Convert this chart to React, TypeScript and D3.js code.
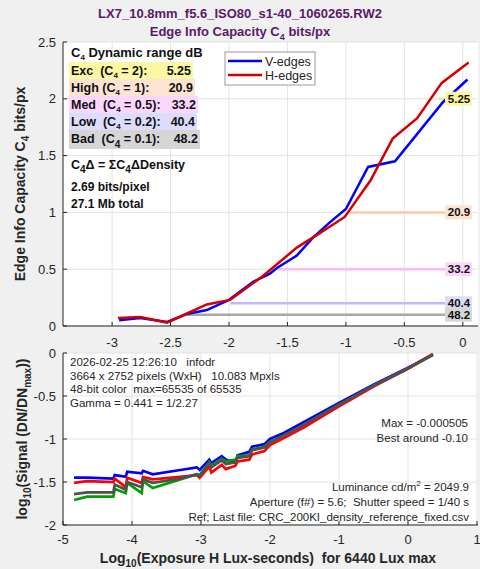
import React from "react";
import * as d3 from "d3";

// ---------- DATA ----------
const titleLine1 = "LX7_10.8mm_f5.6_ISO80_s1-40_1060265.RW2";

const vEdgeX = [-2.94, -2.76, -2.53, -2.36, -2.19, -2.0, -1.79, -1.65, -1.59, -1.42, -1.28, -1.14, -1.0, -0.81, -0.58, -0.17, 0.04];
const vEdgeY = [0.05, 0.07, 0.035, 0.105, 0.14, 0.23, 0.39, 0.46, 0.51, 0.62, 0.78, 0.91, 1.03, 1.40, 1.45, 1.97, 2.17];
const hEdgeX = [-2.95, -2.76, -2.53, -2.36, -2.19, -1.99, -1.71, -1.42, -1.25, -1.01, -0.79, -0.60, -0.39, -0.18, 0.05];
const hEdgeY = [0.07, 0.08, 0.03, 0.11, 0.19, 0.23, 0.44, 0.69, 0.80, 0.96, 1.28, 1.65, 1.83, 2.14, 2.32];

const drNames = ["Exc", "High", "Med", "Low", "Bad"];
const drLevels = ["2", "1", "0.5", "0.2", "0.1"];
const drLevelVals = [2, 1, 0.5, 0.2, 0.1];
const drValues = ["5.25", "20.9", "33.2", "40.4", "48.2"];
const drStartX = [-0.21, -0.99, -1.58, -1.99, -2.36];

const topXTicks = [-3, -2.5, -2, -1.5, -1, -0.5, 0];
const topYTicks = [0, 0.5, 1, 1.5, 2, 2.5];

const sigX = [-4.84, -4.65, -4.27, -4.25, -4.09, -4.07, -3.86, -3.84, -3.70, -3.30, -3.06, -3.02, -2.88, -2.85, -2.70, -2.64, -2.50, -2.47, -2.30, -2.26, -2.08, -2.00, -1.80, -1.50, -1.00, -0.50, 0.00, 0.36];
const sigBlue = [-1.45, -1.45, -1.46, -1.42, -1.44, -1.38, -1.40, -1.37, -1.41, -1.36, -1.33, -1.36, -1.24, -1.28, -1.20, -1.24, -1.28, -1.19, -1.15, -1.09, -1.06, -1.00, -0.93, -0.80, -0.58, -0.37, -0.17, -0.02];
const sigRed = [-1.51, -1.49, -1.50, -1.46, -1.56, -1.45, -1.51, -1.44, -1.47, -1.44, -1.42, -1.45, -1.32, -1.39, -1.30, -1.35, -1.31, -1.26, -1.24, -1.18, -1.14, -1.07, -0.99, -0.86, -0.62, -0.39, -0.18, -0.01];
const sigGray = [-1.64, -1.62, -1.62, -1.53, -1.59, -1.50, -1.56, -1.47, -1.51, -1.46, -1.41, -1.43, -1.28, -1.33, -1.25, -1.29, -1.27, -1.22, -1.20, -1.13, -1.10, -1.04, -0.96, -0.83, -0.60, -0.38, -0.18, -0.02];
const sigGreen = [-1.71, -1.67, -1.67, -1.58, -1.63, -1.51, -1.63, -1.49, -1.57, -1.47, -1.41, -1.42, -1.27, -1.31, -1.23, -1.26, -1.24, -1.20, -1.19, -1.12, -1.09, -1.03, -0.96, -0.83, -0.60, -0.38, -0.18, -0.02];

const botXTicks = [-5, -4, -3, -2, -1, 0, 1];
const botYTicks = [0, -0.5, -1, -1.5, -2];

const infoLeft = [
  "2026-02-25 12:26:10   infodr",
  "3664 x 2752 pixels (WxH)   10.083 Mpxls",
  "48-bit color  max=65535 of 65535",
  "Gamma = 0.441 = 1/2.27",
];
const infoRight1 = ["Max = -0.000505", "Best around -0.10"];
const apertureText = "Aperture (f#) = 5.6;  Shutter speed = 1/40 s";
const refText = "Ref; Last file: CRC_200KI_density_reference_fixed.csv";
const luminance = "2049.9";

// ---------- STYLE ----------
const FONT = "'Liberation Sans', Arial, sans-serif";
const TXT = "#262626";
const GRID = "#e3e3e3";
const PURPLE = "#5a1a6a";
const rowBg = ["#fcf7a2", "#fde3d2", "#fcd6fc", "#dcdcfb", "#d6d6d6"];
const lineCol = ["#f5ee70", "#fdc9a6", "#fcb8fc", "#bcbcfc", "#a8a8a8"];
const rowEnd = [193, 195, 198, 197, 200];

// subscript helper: returns subscript tspan followed by the rest shifted back
function Sub(sub: string, rest: string, dy = 4, size = 9) {
  return [
    <tspan key="s" dy={dy} fontSize={size}>{sub}</tspan>,
    <tspan key="r" dy={-dy}>{rest}</tspan>,
  ];
}

export default function App() {
  const xT = d3.scaleLinear().domain([-3.42, 0.13]).range([63, 478]);
  const yT = d3.scaleLinear().domain([0, 2.5]).range([326, 42]);
  const xB = d3.scaleLinear().domain([-5, 1]).range([63, 477]);
  const yB = d3.scaleLinear().domain([-2, 0]).range([525, 353]);

  const lineTop = d3.line<[number, number]>().x((d) => xT(d[0])).y((d) => yT(d[1]));
  const lineBot = d3.line<[number, number]>().x((d) => xB(d[0])).y((d) => yB(d[1]));

  const vPts = vEdgeX.map((x, i) => [x, vEdgeY[i]] as [number, number]);
  const hPts = hEdgeX.map((x, i) => [x, hEdgeY[i]] as [number, number]);

  const sigSeries = [
    { vals: sigBlue, color: "#0000ff" },
    { vals: sigGreen, color: "#00a000" },
    { vals: sigRed, color: "#ff0000" },
    { vals: sigGray, color: "#505050" },
  ];

  return (
    <svg width={480} height={569} style={{ position: "absolute", left: 0, top: 0, fontFamily: FONT }}>
      <rect width={480} height={569} fill="#f0f0f0" />

      {/* Titles */}
      <text x={240} y={18} textAnchor="middle" fontSize={13} fontWeight="bold" fill={PURPLE}>{titleLine1}</text>
      <text x={240} y={36} textAnchor="middle" fontSize={13} fontWeight="bold" fill={PURPLE}>
        <tspan>Edge Info Capacity C</tspan>
        {Sub("4", " bits/px")}
      </text>

      {/* ---------- TOP CHART ---------- */}
      <rect x={63} y={42} width={415} height={284} fill="#fff" />
      {topXTicks.map((t) => (
        <line key={"gx" + t} x1={xT(t)} x2={xT(t)} y1={42} y2={326} stroke={GRID} />
      ))}
      {topYTicks.map((t) => (
        <line key={"gy" + t} x1={63} x2={478} y1={yT(t)} y2={yT(t)} stroke={GRID} />
      ))}
      <line x1={63} x2={63} y1={42} y2={326} stroke={TXT} />
      <line x1={63} x2={478} y1={326} y2={326} stroke={TXT} />
      {topXTicks.map((t) => (
        <g key={"tx" + t}>
          <line x1={xT(t)} x2={xT(t)} y1={326} y2={322} stroke={TXT} />
          <text x={xT(t)} y={347} textAnchor="middle" fontSize={13} fill={TXT}>{t}</text>
        </g>
      ))}
      {topYTicks.map((t) => (
        <g key={"ty" + t}>
          <line x1={63} x2={67} y1={yT(t)} y2={yT(t)} stroke={TXT} />
          <text x={56} y={yT(t) + 4.5} textAnchor="end" fontSize={13} fill={TXT}>{t}</text>
        </g>
      ))}
      <text transform={`translate(25,184) rotate(-90)`} textAnchor="middle" fontSize={14} fontWeight="bold" fill={TXT}>
        <tspan>Edge Info Capacity C</tspan>
        {Sub("4", " bits/px", 4, 10)}
      </text>

      {/* threshold lines */}
      {drLevelVals.map((lv, i) => (
        <line key={"th" + i} x1={xT(drStartX[i])} x2={446} y1={yT(lv)} y2={yT(lv)} stroke={lineCol[i]} strokeWidth={2.5} />
      ))}

      {/* curves */}
      <path d={lineTop(vPts) || ""} fill="none" stroke="#0000ff" strokeWidth={2.5} />
      <path d={lineTop(hPts) || ""} fill="none" stroke="#d40000" strokeWidth={2.5} />

      {/* threshold labels */}
      {drLevelVals.map((lv, i) => (
        <g key={"tl" + i}>
          <rect x={445} y={yT(lv) - 7} width={27} height={14} fill={rowBg[i]} />
          <text x={459} y={yT(lv) + 4} textAnchor="middle" fontSize={11.5} fontWeight="bold" fill="#111">{drValues[i]}</text>
        </g>
      ))}

      {/* legend */}
      <rect x={225} y={52} width={90} height={33} fill="#fff" stroke="#9a9a9a" />
      <line x1={228} x2={262} y1={61} y2={61} stroke="#0000ff" strokeWidth={2.5} />
      <line x1={228} x2={262} y1={75} y2={75} stroke="#d40000" strokeWidth={2.5} />
      <text x={265} y={65.5} fontSize={12.5} fill={TXT}>V-edges</text>
      <text x={265} y={80} fontSize={12.5} fill={TXT}>H-edges</text>

      {/* DR annotation */}
      <text x={71} y={57} fontSize={13} fontWeight="bold" fill="#111">
        <tspan>C</tspan>
        {Sub("4", " Dynamic range dB", 3, 8)}
      </text>
      {drNames.map((n, i) => {
        const top = 62 + i * 17;
        const h = i === 4 ? 19 : 17;
        const pre = n + (n.length < 4 ? "\u00a0\u00a0" : "\u00a0") + "(C";
        return (
          <g key={"row" + i}>
            <rect x={69} y={top} width={rowEnd[i] - 69} height={h} fill={rowBg[i]} />
            <text x={71} y={top + 12.5} fontSize={12.5} fontWeight="bold" fill="#111">
              <tspan>{pre}</tspan>
              {i === 4 ? Sub("4", " = " + drLevels[i] + "):", 5, 10) : Sub("4", " = " + drLevels[i] + "):", 3, 8)}
            </text>
            <text x={rowEnd[i] - 2} y={top + 12.5} textAnchor="end" fontSize={12.5} fontWeight="bold" fill="#111">{drValues[i]}</text>
          </g>
        );
      })}
      <text x={71} y={169} fontSize={12.5} fontWeight="bold" fill="#111">
        <tspan>C</tspan>
        <tspan dy={4} fontSize={10}>4</tspan>
        <tspan dy={-4}>Δ = ΣC</tspan>
        <tspan dy={4} fontSize={10}>4</tspan>
        <tspan dy={-4}>ΔDensity</tspan>
      </text>
      <text x={71} y={191} fontSize={12} fontWeight="bold" fill="#111">2.69 bits/pixel</text>
      <text x={71} y={208} fontSize={12} fontWeight="bold" fill="#111">27.1 Mb total</text>

      {/* ---------- BOTTOM CHART ---------- */}
      <rect x={63} y={353} width={415} height={172} fill="#fff" />
      {botXTicks.map((t) => (
        <line key={"bgx" + t} x1={xB(t)} x2={xB(t)} y1={353} y2={525} stroke={GRID} />
      ))}
      {botYTicks.map((t) => (
        <line key={"bgy" + t} x1={63} x2={478} y1={yB(t)} y2={yB(t)} stroke={GRID} />
      ))}
      <line x1={63} x2={63} y1={353} y2={525} stroke={TXT} />
      <line x1={63} x2={478} y1={525} y2={525} stroke={TXT} />
      {botXTicks.map((t) => (
        <g key={"btx" + t}>
          <line x1={xB(t)} x2={xB(t)} y1={525} y2={521} stroke={TXT} />
          <text x={xB(t)} y={544} textAnchor="middle" fontSize={13} fill={TXT}>{t}</text>
        </g>
      ))}
      {botYTicks.map((t) => (
        <g key={"bty" + t}>
          <line x1={63} x2={67} y1={yB(t)} y2={yB(t)} stroke={TXT} />
          <text x={56} y={yB(t) + 4.5} textAnchor="end" fontSize={13} fill={TXT}>{t}</text>
        </g>
      ))}

      {sigSeries.map((s, k) => (
        <path
          key={"sig" + k}
          d={lineBot(sigX.map((x, i) => [x, s.vals[i]] as [number, number])) || ""}
          fill="none"
          stroke={s.color}
          strokeWidth={2.7}
        />
      ))}

      {infoLeft.map((t, i) => (
        <text key={"il" + i} x={70} y={366 + i * 13.5} fontSize={11.5} fill={TXT} style={{ whiteSpace: "pre" }}>{t}</text>
      ))}
      {infoRight1.map((t, i) => (
        <text key={"ir" + i} x={468} y={427 + i * 15} textAnchor="end" fontSize={11.5} fill={TXT}>{t}</text>
      ))}
      <text x={469} y={491} textAnchor="end" fontSize={11.5} fill={TXT}>
        <tspan>Luminance cd/m</tspan>
        <tspan dy={-5} fontSize={8}>2</tspan>
        <tspan dy={5}>{" = " + luminance}</tspan>
      </text>
      <text x={469} y={506} textAnchor="end" fontSize={11.5} fill={TXT} style={{ whiteSpace: "pre" }}>{apertureText}</text>
      <text x={469} y={521} textAnchor="end" fontSize={11.5} fill={TXT}>{refText}</text>

      <text x={268} y={563} textAnchor="middle" fontSize={14} fontWeight="bold" fill={TXT} style={{ whiteSpace: "pre" }}>
        <tspan>Log</tspan>
        {Sub("10", "(Exposure H Lux-seconds)  for 6440 Lux max", 4, 10)}
      </text>
      <text transform={`translate(27,439) rotate(-90)`} textAnchor="middle" fontSize={14} fontWeight="bold" fill={TXT}>
        <tspan>log</tspan>
        <tspan dy={4} fontSize={10}>10</tspan>
        <tspan dy={-4}>(Signal (DN/DN</tspan>
        <tspan dy={4} fontSize={10}>max</tspan>
        <tspan dy={-4}>))</tspan>
      </text>
    </svg>
  );
}
